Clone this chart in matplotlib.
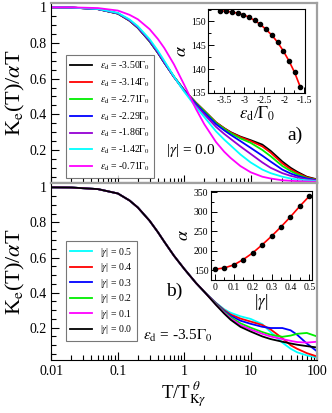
import matplotlib
matplotlib.use("Agg")
import matplotlib.pyplot as plt
from matplotlib.ticker import MultipleLocator, LogLocator, NullFormatter, FixedFormatter, FixedLocator

plt.rcParams['font.family'] = ['Liberation Serif', 'DejaVu Serif']
plt.rcParams['mathtext.fontset'] = 'stix'

# temperature grid of the read-off points (T/T_K)
T = [0.01, 0.02, 0.05, 0.1, 0.15, 0.2, 0.3, 0.4, 0.5, 0.7, 1, 1.5, 2, 3, 4, 5, 7, 10, 15, 20, 30, 40, 50, 70, 100]

# panel a) : different eps_d, |gamma| = 0
eps_labels = ['-3.50', '-3.14', '-2.71', '-2.29', '-1.86', '-1.42', '-0.71']
eps_colors = ['black', 'red', '#00ee00', 'blue', '#9400d3', 'cyan', 'magenta']
ka_black = [1.0, 0.999, 0.99, 0.965, 0.925, 0.885, 0.81, 0.745, 0.69, 0.61, 0.535, 0.465, 0.42, 0.355, 0.322, 0.30, 0.275, 0.255, 0.23, 0.195, 0.135, 0.10, 0.078, 0.05, 0.035]
ka_red = [1.0, 0.999, 0.99, 0.965, 0.925, 0.885, 0.81, 0.745, 0.69, 0.61, 0.535, 0.465, 0.42, 0.355, 0.321, 0.298, 0.272, 0.25, 0.22, 0.185, 0.125, 0.092, 0.072, 0.047, 0.033]
ka_green = [1.0, 0.999, 0.99, 0.965, 0.926, 0.886, 0.81, 0.746, 0.69, 0.61, 0.535, 0.463, 0.418, 0.352, 0.318, 0.294, 0.265, 0.24, 0.20, 0.165, 0.11, 0.082, 0.064, 0.043, 0.031]
ka_blue = [1.0, 0.999, 0.99, 0.966, 0.927, 0.887, 0.812, 0.747, 0.69, 0.61, 0.533, 0.458, 0.41, 0.345, 0.31, 0.285, 0.25, 0.212, 0.168, 0.135, 0.09, 0.068, 0.055, 0.04, 0.03]
ka_purple = [1.0, 0.999, 0.99, 0.967, 0.928, 0.889, 0.815, 0.75, 0.693, 0.61, 0.53, 0.45, 0.40, 0.33, 0.29, 0.262, 0.22, 0.178, 0.13, 0.10, 0.07, 0.055, 0.046, 0.035, 0.028]
ka_cyan = [1.0, 0.999, 0.991, 0.969, 0.932, 0.894, 0.822, 0.757, 0.70, 0.612, 0.527, 0.44, 0.385, 0.305, 0.258, 0.225, 0.175, 0.13, 0.09, 0.07, 0.05, 0.04, 0.035, 0.03, 0.025]
ka_magenta = [1.0, 1.0, 0.996, 0.982, 0.958, 0.933, 0.878, 0.823, 0.772, 0.68, 0.565, 0.43, 0.345, 0.245, 0.19, 0.155, 0.11, 0.075, 0.05, 0.04, 0.03, 0.027, 0.025, 0.023, 0.022]
ka_curves = [ka_black, ka_red, ka_green, ka_blue, ka_purple, ka_cyan, ka_magenta]

# panel b) : eps_d = -3.5, different |gamma|
gam_labels = ['0.5', '0.4', '0.3', '0.2', '0.1', '0.0']
gam_colors = ['cyan', 'red', 'blue', '#00ee00', 'magenta', 'black']
kb_black = [1.0, 0.999, 0.99, 0.965, 0.925, 0.885, 0.81, 0.745, 0.69, 0.61, 0.535, 0.455, 0.405, 0.33, 0.28, 0.245, 0.205, 0.178, 0.15, 0.135, 0.12, 0.11, 0.103, 0.095, 0.087]
kb_01 = [1.0, 0.999, 0.99, 0.965, 0.925, 0.885, 0.81, 0.745, 0.69, 0.61, 0.535, 0.455, 0.405, 0.332, 0.285, 0.252, 0.215, 0.19, 0.165, 0.15, 0.135, 0.125, 0.118, 0.115, 0.12]
kb_02 = [1.0, 0.999, 0.99, 0.965, 0.925, 0.885, 0.81, 0.745, 0.69, 0.61, 0.535, 0.455, 0.405, 0.335, 0.29, 0.26, 0.225, 0.20, 0.175, 0.16, 0.148, 0.155, 0.165, 0.17, 0.15]
kb_03 = [1.0, 0.999, 0.99, 0.965, 0.925, 0.885, 0.81, 0.745, 0.69, 0.61, 0.535, 0.455, 0.405, 0.338, 0.295, 0.268, 0.24, 0.222, 0.205, 0.198, 0.198, 0.185, 0.16, 0.11, 0.065]
kb_04 = [1.0, 0.999, 0.99, 0.965, 0.925, 0.885, 0.81, 0.745, 0.69, 0.61, 0.535, 0.455, 0.405, 0.34, 0.30, 0.275, 0.252, 0.235, 0.215, 0.19, 0.14, 0.10, 0.08, 0.055, 0.036]
kb_05 = [1.0, 0.999, 0.99, 0.965, 0.925, 0.885, 0.81, 0.745, 0.69, 0.61, 0.535, 0.455, 0.405, 0.342, 0.305, 0.285, 0.265, 0.25, 0.22, 0.175, 0.115, 0.08, 0.06, 0.042, 0.03]
kb_curves = [kb_05, kb_04, kb_03, kb_02, kb_01, kb_black]

# inset a) : alpha vs eps_d
ins_eps = [-3.6, -3.457, -3.314, -3.171, -3.029, -2.886, -2.743, -2.6, -2.457, -2.314, -2.171, -2.029, -1.886, -1.743, -1.6]
ins_alpha_a = [152.24, 152.17, 151.96, 151.75, 151.40, 150.91, 150.21, 149.37, 148.32, 147.13, 145.66, 143.85, 141.75, 139.30, 136.22]

# inset b) : alpha vs |gamma|
ins_gam = [0.0, 0.05, 0.1, 0.15, 0.2, 0.25, 0.3, 0.35, 0.4, 0.45, 0.5]
ins_alpha_b = [152.6, 156.0, 163.7, 177.4, 194.4, 215.0, 237.2, 261.1, 286.8, 314.1, 339.7]

fig = plt.figure(figsize=(3.32, 4.13), dpi=100)
ax_a = fig.add_axes([0.155, 0.557, 0.800, 0.436])
ax_b = fig.add_axes([0.155, 0.128, 0.800, 0.429])


def style_main(ax):
    ax.set_xscale('log')
    ax.set_xlim(0.01, 100)
    ax.set_ylim(0.015, 1.025)
    ax.yaxis.set_major_locator(FixedLocator([0.2, 0.4, 0.6, 0.8, 1.0]))
    ax.yaxis.set_major_formatter(FixedFormatter(['0.2', '0.4', '0.6', '0.8', '1']))
    ax.yaxis.set_minor_locator(MultipleLocator(0.05))
    ax.xaxis.set_major_locator(LogLocator(base=10))
    ax.xaxis.set_minor_locator(LogLocator(base=10, subs=range(2, 10)))
    ax.xaxis.set_minor_formatter(NullFormatter())
    ax.tick_params(which='both', direction='in', top=False, right=False, labelsize=10)
    ax.tick_params(which='major', length=6, width=0.8)
    ax.tick_params(which='minor', length=3.5, width=0.8)
    for s in ['top', 'right']:
        ax.spines[s].set_color('#a0a0a0')
        ax.spines[s].set_linewidth(1.6)
    ax.set_ylabel(r'K$_\mathrm{e}$(T)/$\alpha$T', fontsize=16, labelpad=2)


style_main(ax_a)
style_main(ax_b)
ax_a.spines['bottom'].set_color('#a0a0a0')
ax_a.spines['bottom'].set_linewidth(1.6)
ax_a.tick_params(labelbottom=False)
ax_b.set_xticks([0.01, 0.1, 1, 10, 100])
ax_b.set_xticklabels(['0.01', '0.1', '1', '10', '100'])
ax_b.set_xlabel(r'T/T$_{\mathrm{K}\gamma}^{\ \theta}$', fontsize=13.5, labelpad=1)

for vals, lab, col in zip(ka_curves, eps_labels, eps_colors):
    ax_a.plot(T, vals, color=col, lw=1.3, label=r'$\varepsilon_\mathrm{d}$ = ' + lab + r'$\Gamma_0$')
for vals, lab, col in zip(kb_curves, gam_labels, gam_colors):
    ax_b.plot(T, vals, color=col, lw=1.3, label=r'|$\gamma$| = ' + lab)

leg_a = ax_a.legend(loc='upper left', bbox_to_anchor=(0.035, 0.74), fontsize=7, handlelength=2.2,
                    labelspacing=0.45, borderpad=0.5, frameon=True, fancybox=False, handletextpad=0.8)
leg_a.get_frame().set_edgecolor('#555555')
leg_a.get_frame().set_linewidth(0.8)
leg_b = ax_b.legend(loc='upper left', bbox_to_anchor=(0.035, 0.70), fontsize=7, handlelength=2.2,
                    labelspacing=0.25, borderpad=0.5, frameon=True, fancybox=False, handletextpad=0.8)
leg_b.get_frame().set_edgecolor('#555555')
leg_b.get_frame().set_linewidth(0.8)

ax_a.text(0.89, 0.24, 'a)', transform=ax_a.transAxes, fontsize=14)
ax_a.text(0.43, 0.16, r'|$\gamma$| = 0.0', transform=ax_a.transAxes, fontsize=11)
ax_b.text(0.43, 0.36, 'b)', transform=ax_b.transAxes, fontsize=14)
ax_b.text(0.345, 0.115, r'$\varepsilon_\mathrm{d}$ = -3.5$\Gamma_0$', transform=ax_b.transAxes, fontsize=11)

# insets
in_a = fig.add_axes([0.628, 0.775, 0.291, 0.203])
in_a.plot(ins_eps, ins_alpha_a, color='red', lw=1.2, marker='o', ms=3, mfc='black', mec='black')
in_a.set_xlim(-3.9, -1.48)
in_a.set_ylim(135, 152.6)
in_a.xaxis.set_major_locator(MultipleLocator(0.5))
in_a.xaxis.set_minor_locator(MultipleLocator(0.25))
in_a.yaxis.set_major_locator(MultipleLocator(5))
in_a.yaxis.set_minor_locator(MultipleLocator(2.5))
in_a.set_xticks([-3.5, -3, -2.5, -2, -1.5])
in_a.set_xticklabels(['-3.5', '-3', '-2.5', '-2', '-1.5'])
in_a.set_xlabel(r'$\varepsilon_\mathrm{d}$/$\Gamma_0$', fontsize=12, labelpad=0)
in_a.set_ylabel(r'$\alpha$', fontsize=13, labelpad=1)

in_b = fig.add_axes([0.636, 0.322, 0.304, 0.2155])
in_b.plot(ins_gam, ins_alpha_b, color='red', lw=1.2, marker='o', ms=3, mfc='black', mec='black')
in_b.set_xlim(-0.02, 0.515)
in_b.set_ylim(125, 353)
in_b.xaxis.set_major_locator(MultipleLocator(0.1))
in_b.xaxis.set_minor_locator(MultipleLocator(0.05))
in_b.yaxis.set_major_locator(MultipleLocator(50))
in_b.yaxis.set_minor_locator(MultipleLocator(25))
in_b.set_xticks([0, 0.1, 0.2, 0.3, 0.4, 0.5])
in_b.set_xticklabels(['0', '0.1', '0.2', '0.3', '0.4', '0.5'])
in_b.set_xlabel(r'|$\gamma$|', fontsize=12, labelpad=0)
in_b.set_ylabel(r'$\alpha$', fontsize=13, labelpad=1)

for ax in (in_a, in_b):
    ax.tick_params(which='both', direction='in', top=False, right=False, labelsize=7, pad=2)
    ax.tick_params(which='major', length=4, width=0.7)
    ax.tick_params(which='minor', length=2, width=0.7)
    for s in ax.spines.values():
        s.set_linewidth(0.8)

fig.savefig('out.png', dpi=100)
